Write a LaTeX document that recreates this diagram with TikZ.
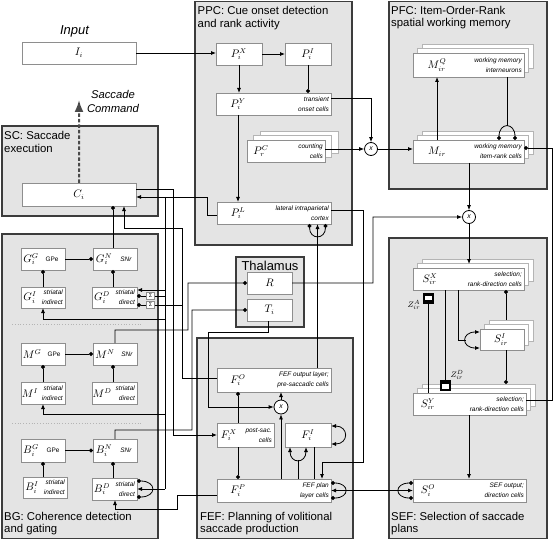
\documentclass[tikz,border=0pt]{standalone}
\usepackage[no-math]{fontspec}
\setmainfont{Liberation Sans}
\usetikzlibrary{arrows.meta,calc}
\definecolor{regfill}{HTML}{E4E4E4}
\definecolor{regline}{HTML}{3C3C3C}
\definecolor{cellline}{HTML}{8E8E8E}
\definecolor{backline}{HTML}{B4B4B4}
\definecolor{dashc}{HTML}{4A4A4A}
\newcommand\mkbox[6][]{%
  \pgfmathsetmacro\mkW{(#5)-(#3)}\pgfmathsetmacro\mkH{(#6)-(#4)}%
  \node[cell,minimum width=\mkW bp,minimum height=\mkH bp,anchor=north west,#1] (#2) at ({#3},{#4}) {};}
\newcommand\mkstack[6]{%
  \mkbox[backcell]{#1-b2}{(#2)+2*(#6)}{(#3)-9}{(#4)+2*(#6)}{(#5)-9}%
  \mkbox[backcell]{#1-b1}{(#2)+(#6)}{(#3)-4.5}{(#4)+(#6)}{(#5)-4.5}%
  \mkbox{#1}{#2}{#3}{#4}{#5}}
\tikzset{
  region/.style={draw=regline,fill=regfill,line width=1.3bp},
  cell/.style={draw=cellline,fill=white,line width=0.7bp,inner sep=0,outer sep=0},
  backcell/.style={draw=backline},
  conn/.style={draw=black,line width=0.8bp},
  exc/.style={conn,-{Latex[length=5bp,width=4bp]}},
  inh/.style={conn,-{Circle[length=4bp]}},
  exctwo/.style={conn,{Latex[length=5bp,width=4bp]}-{Latex[length=5bp,width=4bp]}},
  inhtwo/.style={conn,{Circle[length=4bp]}-{Circle[length=4bp]}},
  ttl/.style={font=\fontsize{11.4}{12.6}\selectfont,align=left,inner sep=0,anchor=north west},
  note/.style={font=\fontsize{6.5}{10}\selectfont\itshape,align=right,inner sep=0,anchor=east},
  gpe/.style={font=\fontsize{6.5}{8}\selectfont,inner sep=0},
  snr/.style={font=\fontsize{6.5}{8}\selectfont\itshape,inner sep=0},
  lab/.style={font=\fontsize{10.5}{12}\selectfont,inner sep=0},
  zlab/.style={font=\fontsize{8.5}{10}\selectfont,inner sep=0},
  mult/.style={circle,draw=black,fill=white,line width=0.8bp,minimum size=13bp,inner sep=0,font=\fontsize{7}{7}\selectfont\itshape},
  sig/.style={draw=cellline,fill=white,line width=0.6bp,minimum width=8bp,minimum height=7.5bp,inner sep=0,font=\fontsize{5.5}{5.5}\selectfont},
  gate/.style={fill=black,minimum width=11bp,minimum height=11bp,inner sep=0},
}
\begin{document}
\begin{tikzpicture}[x=1bp,y=-1bp]
\useasboundingbox (0,0) rectangle (555,540);
% ---------- regions ----------
\draw[region] (195,1.5) rectangle (352,245);
\draw[region] (389,1.5) rectangle (547,189);
\draw[region] (2,126) rectangle (158,216);
\draw[region] (2,234) rectangle (158,538.5);
\draw[region] (236,257) rectangle (304,327);
\draw[region] (197,338) rectangle (353,538.5);
\draw[region] (389,238) rectangle (547,538.5);
\draw[backline,dotted,line width=0.8bp] (12,324) -- (143,324);
\draw[backline,dotted,line width=0.8bp] (12,423) -- (143,423);
% ---------- titles ----------
\node[ttl] (tPPC) at (197.5,6.5) {PPC: Cue onset detection\\and rank activity};
\node[ttl] (tPFC) at (391,6) {PFC: Item-Order-Rank\\spatial working memory};
\node[ttl] (tSC) at (4,131.5) {SC: Saccade\\execution};
\node[ttl] (tBG) at (4,512) {BG: Coherence detection\\and gating};
\node[ttl] (tFEF) at (200,512) {FEF: Planning of volitional\\saccade production};
\node[ttl] (tSEF) at (391,512) {SEF: Selection of saccade\\plans};
\node[font=\fontsize{13}{15}\selectfont,inner sep=0,anchor=base] (tTH) at (270,270) {Thalamus};
\node[font=\fontsize{13}{15}\selectfont\itshape,inner sep=0,anchor=base] (tIn) at (74.5,34.5) {Input};
\node[font=\fontsize{11.3}{14}\selectfont\itshape,inner sep=0,align=center,anchor=north] (tCmd) at (113,90) {Saccade\\Command};
% ---------- cells ----------
\mkbox{I}{22}{42}{136}{64}
\mkbox{C}{22}{183}{136}{206}
\mkbox{PX}{216}{43}{262}{65}
\mkbox{PI}{285}{43}{331}{65}
\mkbox{PY}{216}{93}{331}{115}
\mkstack{PC}{247}{140}{325}{162}{6.5}
\mkbox{PL}{217}{202}{331}{224}
\mkstack{MQ}{413}{53}{524}{77}{4.5}
\mkstack{M}{413}{140}{524}{163}{4.5}
\mkstack{SX}{413}{268}{524}{290}{4.5}
\mkstack{SI}{480}{329}{524}{350}{4.5}
\mkstack{SY}{413}{393}{526}{415}{4.5}
\mkbox{SO}{413}{479}{526}{502}
\mkbox{FO}{217}{368}{331}{392}
\mkbox{FX}{217}{423}{274}{447}
\mkbox{FI}{285}{423}{331}{447}
\mkbox{FP}{217}{479}{331}{502}
\mkbox{R}{247}{272}{292}{294}
\mkbox{T}{247}{299}{292}{321}
\mkbox{GG}{21}{248}{65}{270}
\mkbox{GN}{93}{248}{137}{270}
\mkbox{GI}{21}{287}{65}{308}
\mkbox{GD}{92}{287}{137}{308}
\mkbox{MG}{21}{343}{65}{365}
\mkbox{MN}{93}{343}{137}{365}
\mkbox{MI}{21}{382}{65}{404}
\mkbox{MD}{92}{382}{137}{404}
\mkbox{BGg}{21}{439}{65}{462}
\mkbox{BN}{93}{439}{137}{462}
\mkbox{BI}{23}{477}{67}{498}
\mkbox{BD}{92}{478}{137}{500}
\node[mult] (X1) at (371,149) {x};
\node[mult] (X2) at (469,217) {x};
\node[mult,minimum size=14bp] (X3) at (281,407) {x};
\node[sig] (S1) at (150.5,296) {Σ};
\node[sig] (S2) at (150.5,305) {Σ};
\node[gate] (ZA) at (428.5,298.5) {};
\fill[white] (425,295.5) rectangle (432,299.5);
\node[gate] (ZD) at (445.5,385.5) {};
\fill[white] (442,384) rectangle (449,389);
% ---------- cell labels ----------
\node[lab] (lI) at (79,53) {$I_i$};
\node[lab] (lC) at (79,194.5) {$C_i$};
\node[lab] (lPX) at (239,54) {$P_i^X$};
\node[lab] (lPI) at (308,54) {$P_i^I$};
\node[lab] (lPY) at (238,104) {$P_i^Y$};
\node[note] (nPY) at (329,104) {transient\\onset cells};
\node[lab] (lPC) at (261,151) {$P_r^C$};
\node[note] (nPC) at (323,151) {counting\\cells};
\node[lab] (lPL) at (238,213) {$P_i^L$};
\node[note] (nPL) at (329,213) {lateral intraparietal\\cortex};
\node[lab] (lMQ) at (437,65) {$M_{ir}^Q$};
\node[note] (nMQ) at (522,65) {working memory\\interneurons};
\node[lab] (lM) at (437,151.5) {$M_{ir}$};
\node[note] (nM) at (522,151.5) {working memory\\item-rank cells};
\node[lab] (lSX) at (430,279) {$S_{ir}^X$};
\node[note] (nSX) at (522,279) {selection;\\rank-direction cells};
\node[lab] (lSI) at (501,339.5) {$S_{ir}^I$};
\node[lab] (lSY) at (428,404) {$S_{ir}^Y$};
\node[note] (nSY) at (524,404) {selection;\\rank-direction cells};
\node[lab] (lSO) at (428,490.5) {$S_i^O$};
\node[note] (nSO) at (524,490.5) {SEF output;\\direction cells};
\node[zlab] (lZA) at (414,305) {$Z_{ir}^A$};
\node[zlab] (lZD) at (457,375) {$Z_{ir}^D$};
\node[lab] (lFO) at (238,380) {$F_i^O$};
\node[note] (nFO) at (329,380) {FEF output layer;\\pre-saccadic cells};
\node[lab] (lFX) at (229,435) {$F_i^X$};
\node[note] (nFX) at (272,435) {post-sac.\\cells};
\node[lab] (lFI) at (308,435) {$F_i^I$};
\node[lab] (lFP) at (238,490.5) {$F_i^P$};
\node[note] (nFP) at (329,490.5) {FEF plan\\layer cells};
\node[lab] (lR) at (269.5,283) {$R$};
\node[lab] (lT) at (269.5,310) {$T_i$};
\node[lab] (lGG) at (31,259) {$G_i^G$};
\node[gpe] (pGG) at (52,259) {GPe};
\node[lab] (lGN) at (104,259) {$G_i^N$};
\node[snr] (pGN) at (126,259) {SNr};
\node[lab] (lGI) at (30,297.5) {$G_i^I$};
\node[note] (nGI) at (63,297.5) {striatal\\indirect};
\node[lab] (lGD) at (102,297.5) {$G_i^D$};
\node[note] (nGD) at (135,297.5) {striatal\\direct};
\node[lab] (lMG) at (32,354) {$M^G$};
\node[gpe] (pMG) at (54,354) {GPe};
\node[lab] (lMN) at (105,354) {$M^N$};
\node[snr] (pMN) at (127,354) {SNr};
\node[lab] (lMI) at (30,393) {$M^I$};
\node[note] (nMI) at (63,393) {striatal\\indirect};
\node[lab] (lMD) at (102,393) {$M^D$};
\node[note] (nMD) at (135,393) {striatal\\direct};
\node[lab] (lBG) at (31,450.5) {$B_i^G$};
\node[gpe] (pBG) at (53,450.5) {GPe};
\node[lab] (lBN) at (104,450.5) {$B_i^N$};
\node[snr] (pBN) at (126,450.5) {SNr};
\node[lab] (lBI) at (32,487.5) {$B_i^I$};
\node[note] (nBI) at (65,487.5) {striatal\\indirect};
\node[lab] (lBD) at (102,489) {$B_i^D$};
\node[note] (nBD) at (135,489) {striatal\\direct};
% ---------- saccade command ----------
\coordinate (cmd) at (79,100);
\draw[dashc,line width=2bp,dash pattern=on 3.5bp off 2bp,-{Latex[length=12bp,width=9bp]}] (C.north) -- (cmd);
% ---------- PPC ----------
\draw[exc] (I.east) -- (I.east -| PX.west);
\draw[exc] (PX.east) -- (PI.west);
\draw[exc] (PX.south) -- (PX.south |- PY.north);
\draw[inh] (PI.south) -- (PI.south |- PY.north);
\draw[exc] (PY.east |- 0,98) -| (X1.north);
\draw[exc] (PC.east |- X1.west) -- (X1.west);
\draw[exc] (X1.east) -- (X1.east -| M.west);
\draw[exc] (PY.south -| 238,0) -- (PL.north -| 238,0);
\draw[exc] (PL.west |- 0,215) -- (207,215) -- (207,197) -- (C.east |- 0,197);
\draw[exc] (FO.north -| 317.5,0) -- (PL.south -| 317.5,0);
\draw[inhtwo] (309.5,224) .. controls (309.5,240) and (325.5,240) .. (325.5,224);
% ---------- BG trunks ----------
\coordinate (j1) at (165,197);
\draw[conn] (j1) -- (165,489);
\draw[exc] (165,489) -- (BD.east |- 0,489);
\draw[exc] (165,290) -- (GD.east |- 0,290);
\draw[exc] (165,319) -- (43,319) -- (GI.south -| 43,0);
\draw[exc] (165,414) -- (43,414) -- (MI.south -| 43,0);
\draw[conn] (S1.east) -- (S1.east -| j1);
\draw[inh] (S1.west) -- (S1.west -| GD.east);
\draw[inh] (S2.west) -- (S2.west -| GD.east);
\draw[exc] (C.east |- 0,189) -- (173,189) -- (173,435) -- (FX.west |- 0,435);
\draw[exc] (FO.west |- 0,378) -- (182,378) -- (182,228) -- (124,228) -- (C.south -| 124,0);
\draw[conn] (S2.east) -- (S2.east -| 182,0);
\draw[inh] (GN.north -| 113,0) -- (C.south -| 113,0);
% ---------- BG channels ----------
\draw[inh] (GG.east) -- (GN.west);
\draw[inh] (GI.north) -- (GG.south);
\draw[inh] (GD.north -| 113,0) -- (GN.south -| 113,0);
\draw[inh] (MG.east) -- (MN.west);
\draw[inh] (MI.north) -- (MG.south);
\draw[inh] (MD.north -| 113,0) -- (MN.south -| 113,0);
\draw[inh] (MN.north -| 115,0) -- (115,330) -- (188,330) -- (188,283) -- (R.west);
\draw[inh] (BGg.east) -- (BN.west);
\draw[inh] (BI.north -| 43,0) -- (BGg.south -| 43,0);
\draw[inh] (BD.north -| 113,0) -- (BN.south -| 113,0);
\draw[inh] (BN.north -| 115,0) -- (115,430) -- (192,430) -- (192,310) -- (T.west);
\draw[exc] (FP.west |- 0,495) -- (177,495) -- (177,509) -- (115,509) -- (BD.south -| 115,0);
\draw[inhtwo] (137,481) .. controls (157,481) and (157,497) .. (137,497);
% ---------- thalamus / FEF ----------
\draw[exc] (T.south -| 268,0) -- (268,332) -- (208,332) -- (208,407) -- (X3.west);
\draw[exc] (R.east) -- (373,283) -- (373,217) -- (X2.west);
\draw[exc] (PL.east |- 0,210) -- (363,210) -- (363,462) -- (322,462) -- (FP.north -| 322,0);
\draw[inh] (FX.north -| 238,0) -- (FO.south -| 238,0);
\draw[inh] (FX.south -| 238,0) -- (FP.north -| 238,0);
\draw[exc] (FP.north -| X3.south) -- (X3.south);
\draw[exc] (X3.north) -- (X3.north |- FO.south);
\draw[exctwo] (331,426) .. controls (349,426) and (349,444) .. (331,444);
\draw[exctwo] (290,447) .. controls (290,464) and (306,464) .. (306,447);
\draw[conn] (298,459.75) -- (FP.north -| 298,0);
\draw[conn] (FI.south -| 314,0) -- (FP.north -| 314,0);
\draw[exctwo] (FP.east) -- (SO.west);
\draw[inhtwo] (331,483) .. controls (350,483) and (350,498) .. (331,498);
\draw[inhtwo] (413,483) .. controls (394,483) and (394,498) .. (413,498);
% ---------- PFC / SEF ----------
\draw[exc] (M.north -| 437,0) -- (MQ.south -| 437,0);
\draw[conn] (MQ.south -| 507,0) -- (507,126.5);
\draw[inhtwo] (499,140) .. controls (499,122) and (515,122) .. (515,140);
\draw[exc] (M.south -| X2.north) -- (X2.north);
\draw[exc] (X2.south) -- (469,264);
\draw[inh] (SY.east |- 0,400) -- (552,400) -- (552,148) -- (M.east |- 0,148);
\draw[inh] (506,320) -- (SX.south -| 506,0);
\draw[inh] (SI.south -| 506,0) -- (506,384);
\draw[conn] (SX.south -| 458,0) -- (458,340) -- (465.75,340);
\draw[exctwo] (480,332) .. controls (461,332) and (461,348) .. (480,348);
\draw[conn] (SX.south -| ZD.north) -- (ZD.north);
\draw[conn] (ZA.south) -- (ZA.south |- SY.north);
\draw[exc] (SY.south -| 469,0) -- (SO.north -| 469,0);
\end{tikzpicture}
\end{document}
